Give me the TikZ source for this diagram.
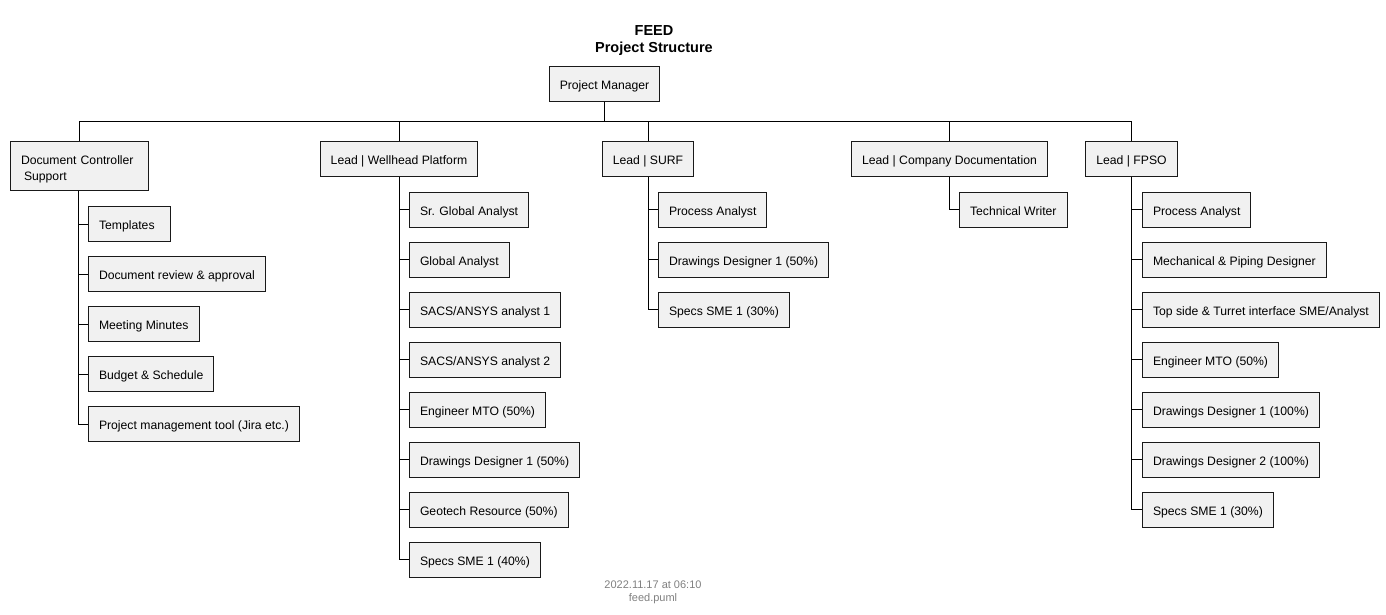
\documentclass[tikz,border=0pt]{standalone}
\usepackage{fontspec}
\setmainfont{Liberation Sans}
\begin{document}
\begin{tikzpicture}[x=1pt,y=-1pt,
  frame/.style={draw=black!90,fill=black!5.5,line width=1pt,inner xsep=10.5pt,inner ysep=3pt},
  box/.style={frame,minimum height=35pt,text height=11.5pt,text depth=0pt,font=\fontsize{12.2}{14}\selectfont},
  conn/.style={draw=black,line width=1pt},
  kid/.style={box,anchor=west}]
\useasboundingbox (0,0) rectangle (1386,614);
% title
\node[font=\bfseries\fontsize{14.5}{17}\selectfont,align=center] (title) at (654,40.5) {FEED\\Project Structure};
% root
\node[box] (pm) at (604.5,83.5) {Project Manager};
\coordinate (bus) at (604.5,121);
% level 1
\node[frame,anchor=west,minimum height=49pt,text width=117pt,align=left,font=\fontsize{12.2}{16}\selectfont] (doc) at (10,165.5) {\rule{0pt}{17pt}Document Controller\\\hspace{3pt}Support};
\node[box] (wh) at (399,159) {Lead | Wellhead Platform};
\node[box] (surf) at (648,159) {Lead | SURF};
\node[box] (cd) at (949.5,159) {Lead | Company Documentation};
\node[box] (fpso) at (1131.5,159) {Lead | FPSO};
\foreach \n in {doc,wh,surf,cd,fpso}{
  \draw[conn] (pm.south) -- (bus) -| (\n.north);
}
% doc children
\node[kid,text width=61pt,align=left] (d1) at (88,224) {Templates};
\node[kid] (d2) at (88,274) {Document review \& approval};
\node[kid] (d3) at (88,324) {Meeting Minutes};
\node[kid] (d4) at (88,374) {Budget \& Schedule};
\node[kid] (d5) at (88,424) {Project management tool (Jira etc.)};
\foreach \n in {d1,d2,d3,d4,d5}{\draw[conn] (doc.south -| 78.5,0) |- (\n.west);}
% wellhead children
\node[kid] (w1) at (409,209.5) {Sr. Global Analyst};
\node[kid] (w2) at (409,259.5) {Global Analyst};
\node[kid] (w3) at (409,309.5) {SACS/ANSYS analyst 1};
\node[kid] (w4) at (409,359.5) {SACS/ANSYS analyst 2};
\node[kid] (w5) at (409,409.5) {Engineer MTO (50\%)};
\node[kid] (w6) at (409,459.5) {Drawings Designer 1 (50\%)};
\node[kid] (w7) at (409,509.5) {Geotech Resource (50\%)};
\node[kid] (w8) at (409,559.5) {Specs SME 1 (40\%)};
\foreach \n in {w1,w2,w3,w4,w5,w6,w7,w8}{\draw[conn] (wh.south) |- (\n.west);}
% surf children
\node[kid] (s1) at (658,209.5) {Process Analyst};
\node[kid] (s2) at (658,259.5) {Drawings Designer 1 (50\%)};
\node[kid] (s3) at (658,309.5) {Specs SME 1 (30\%)};
\foreach \n in {s1,s2,s3}{\draw[conn] (surf.south) |- (\n.west);}
% company doc children
\node[kid] (c1) at (959,209.5) {Technical Writer};
\draw[conn] (cd.south) |- (c1.west);
% fpso children
\node[kid] (f1) at (1142,209.5) {Process Analyst};
\node[kid] (f2) at (1142,259.5) {Mechanical \& Piping Designer};
\node[kid] (f3) at (1142,309.5) {Top side \& Turret interface SME/Analyst};
\node[kid] (f4) at (1142,359.5) {Engineer MTO (50\%)};
\node[kid] (f5) at (1142,409.5) {Drawings Designer 1 (100\%)};
\node[kid] (f6) at (1142,459.5) {Drawings Designer 2 (100\%)};
\node[kid] (f7) at (1142,509.5) {Specs SME 1 (30\%)};
\foreach \n in {f1,f2,f3,f4,f5,f6,f7}{\draw[conn] (fpso.south) |- (\n.west);}
% footer
\node[font=\fontsize{11}{13}\selectfont,text=black!50,align=center] (foot) at (653,592) {2022.11.17 at 06:10\\feed.puml};
\end{tikzpicture}
\end{document}
